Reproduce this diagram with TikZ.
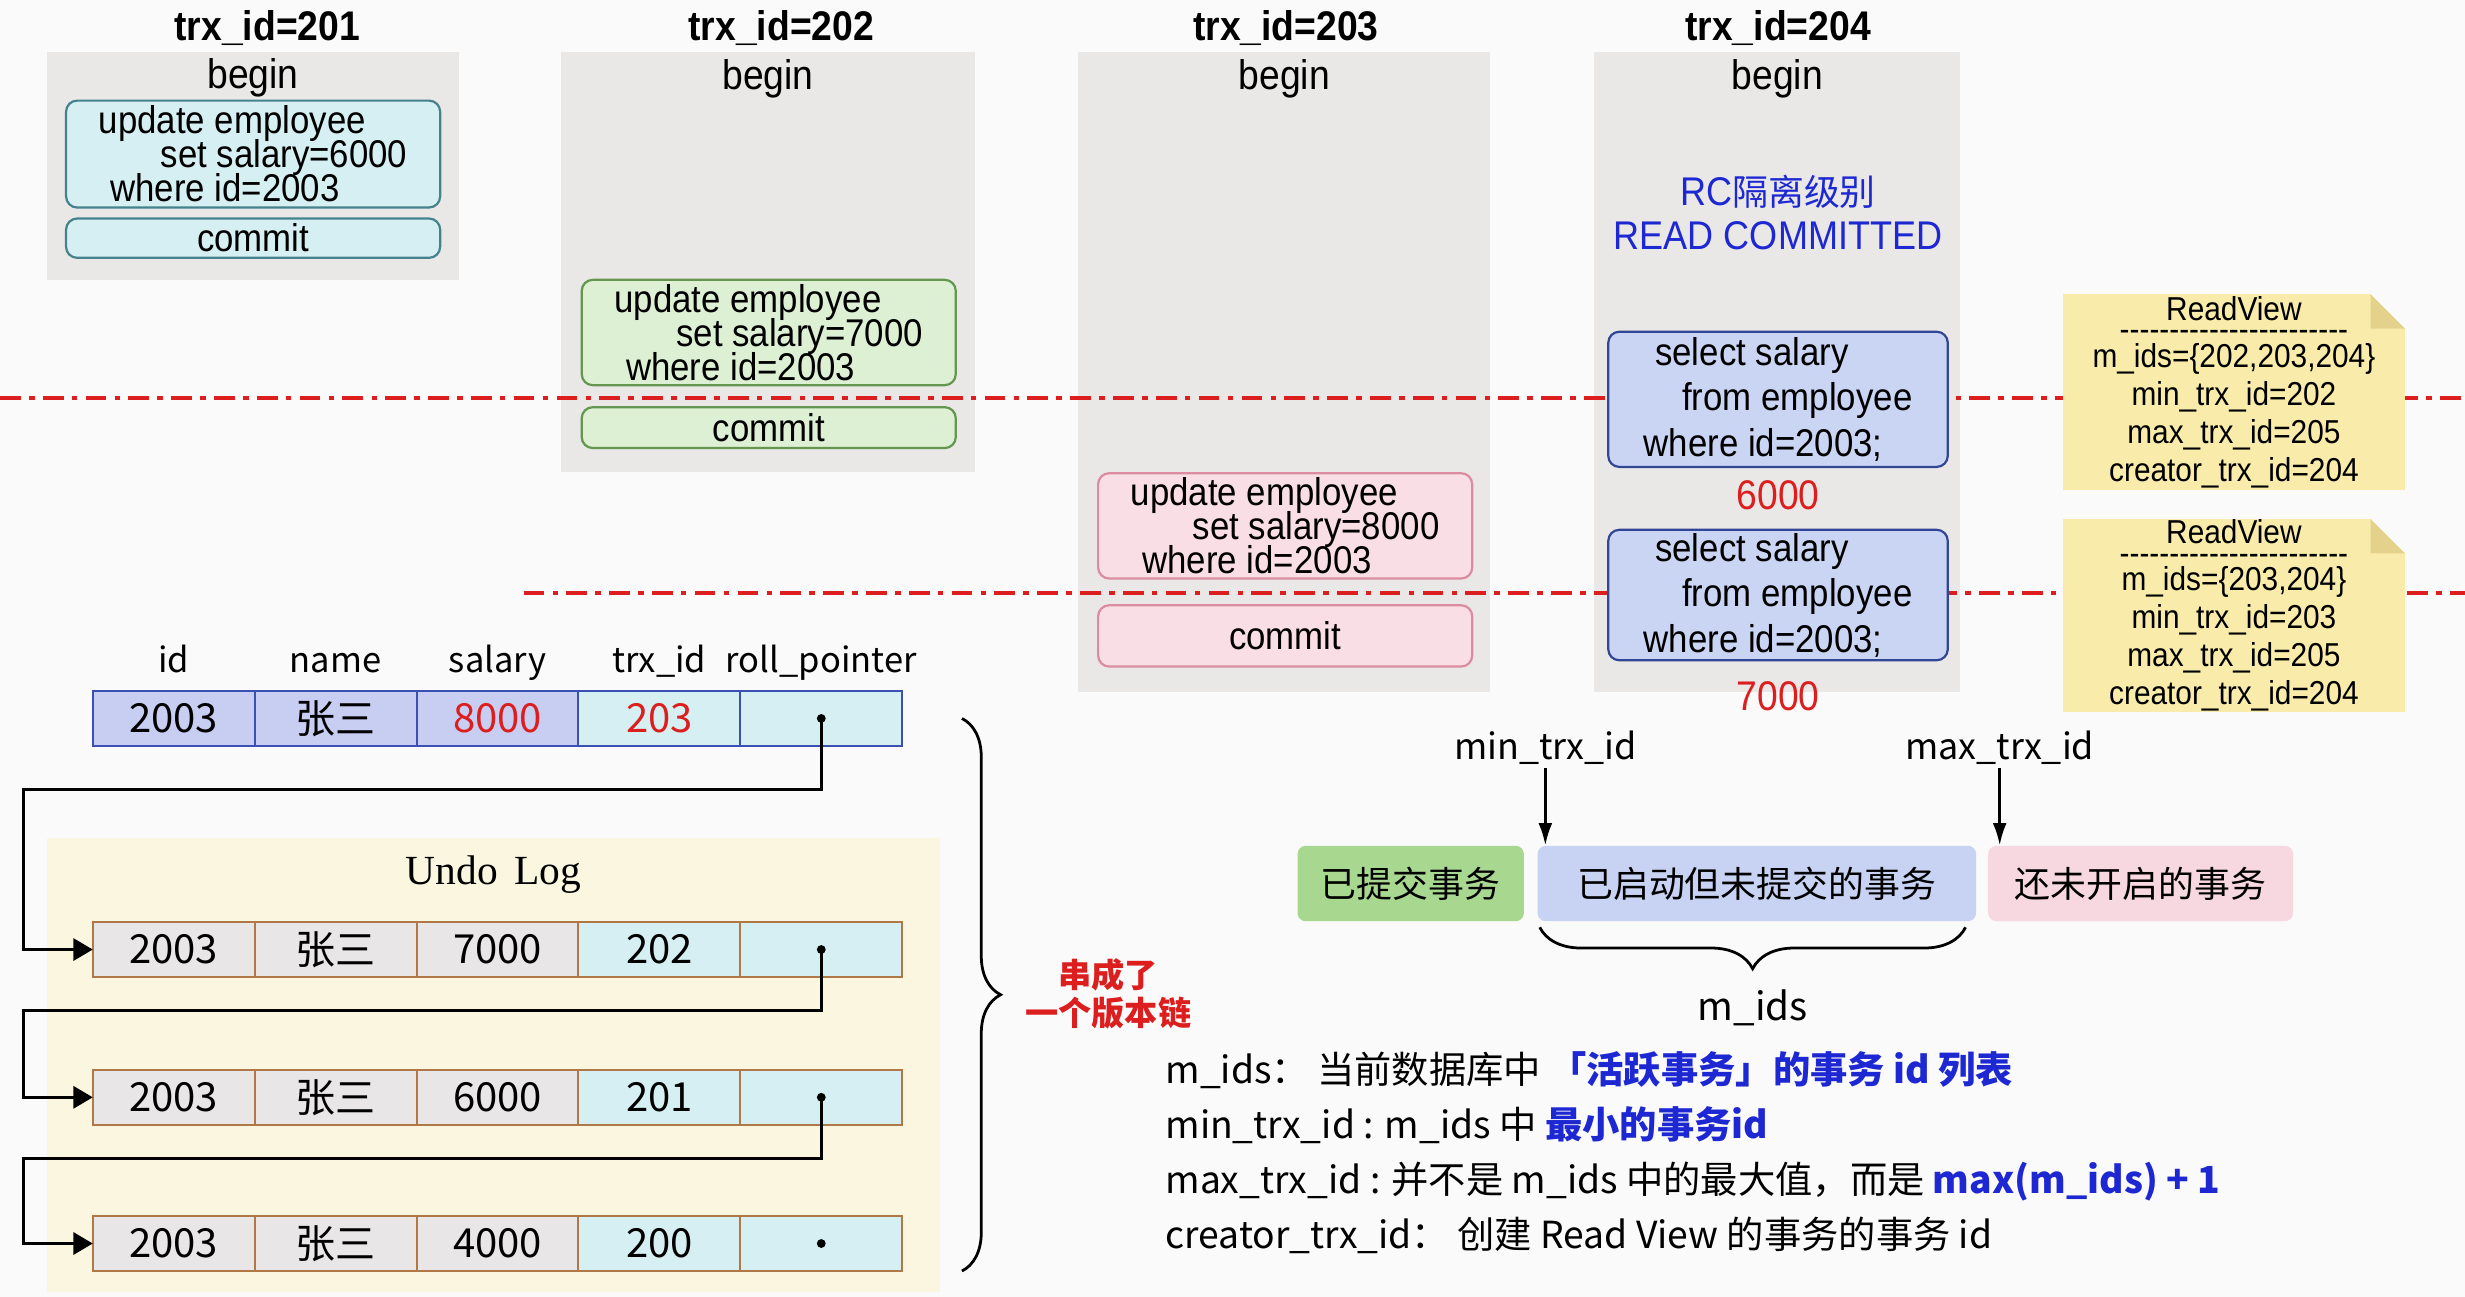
\documentclass[tikz,border=0pt]{standalone}
\usepackage{fontspec}
\setmainfont{Liberation Sans}[FakeStretch=0.9]
\newfontfamily\cjk{Noto Sans CJK SC}
\newfontfamily\logfont{Liberation Serif}
\usetikzlibrary{arrows.meta, positioning, calc, decorations.pathreplacing}
\definecolor{bgc}{RGB}{250,250,250}
\definecolor{colc}{RGB}{233,232,231}
\definecolor{cyanf}{RGB}{213,239,242}
\definecolor{cyand}{RGB}{70,130,140}
\definecolor{greenf}{RGB}{221,240,212}
\definecolor{greend}{RGB}{100,150,80}
\definecolor{pinkf}{RGB}{250,222,230}
\definecolor{pinkd}{RGB}{220,140,160}
\definecolor{self}{RGB}{202,212,243}
\definecolor{seld}{RGB}{50,70,150}
\definecolor{notef}{RGB}{249,236,170}
\definecolor{foldf}{RGB}{228,210,140}
\definecolor{rowf}{RGB}{200,206,242}
\definecolor{rowd}{RGB}{60,80,180}
\definecolor{undof}{RGB}{232,230,230}
\definecolor{undod}{RGB}{175,120,70}
\definecolor{logbg}{RGB}{250,246,224}
\definecolor{hotc}{RGB}{220,30,30}
\definecolor{bluec}{RGB}{30,40,210}
\definecolor{doneg}{RGB}{168,216,144}
\definecolor{actb}{RGB}{200,210,242}
\definecolor{futp}{RGB}{248,216,224}
\newcommand\rvdash{-{}-{}-{}-{}-{}-{}-{}-{}-{}-{}-{}-{}-{}-{}-{}-{}-{}-{}-{}-{}-{}-{}-}
\newcommand\kw[1]{{\bfseries\color{bluec}#1}}
\newcommand\tightlines{\lineskiplimit=-20pt\relax}

\begin{document}
\begin{tikzpicture}[x=0.02cm, y=-0.02cm,
    txcol/.style={fill=colc, inner sep=0pt},
    txtitle/.style={font=\bfseries\fontsize{15}{18}\selectfont},
    lbl/.style={inner sep=0pt, font=\fontsize{15}{18}\selectfont},
    sqlbox/.style={draw, rounded corners=4pt, line width=0.8pt, inner sep=0pt,
      minimum width=4.76cm, align=left,
      font=\fontsize{14}{12.3}\selectfont\tightlines},
    selbox/.style={draw=seld, fill=self, rounded corners=4pt, line width=0.8pt,
      inner sep=0pt, minimum width=4.32cm, align=left,
      font=\fontsize{14}{16.5}\selectfont},
    dashln/.style={hotc, line width=1.4pt,
      dash pattern=on 7.5pt off 3pt on 2pt off 3pt},
    note/.style={fill=notef, minimum width=4.36cm, inner sep=0pt, align=center,
      font=\fontsize{12}{13.7}\selectfont\tightlines,
      path picture={
        \fill[foldf] ([xshift=-0.44cm]path picture bounding box.north east)
          -- ++(0,-0.44cm) -- ([yshift=-0.44cm]path picture bounding box.north east) -- cycle;
        \fill[bgc] ([xshift=-0.44cm]path picture bounding box.north east)
          -- (path picture bounding box.north east)
          -- ([yshift=-0.44cm]path picture bounding box.north east) -- cycle;}},
    cell/.style={draw, line width=0.7pt, outer sep=0pt, inner sep=0pt,
      minimum width=2.06cm, minimum height=0.7cm, font=\cjk\fontsize{14.5}{16}\selectfont},
    cur/.style={cell, draw=rowd, fill=rowf},
    curp/.style={cell, draw=rowd, fill=cyanf},
    old/.style={cell, draw=undod, fill=undof},
    oldp/.style={cell, draw=undod, fill=cyanf},
    hd/.style={font=\cjk\fontsize{12.5}{15}\selectfont, text height=10pt,
      text depth=3pt, inner sep=0pt},
    chainarr/.style={-{Triangle[length=7pt, width=8pt]}, line width=1pt},
    arr/.style={-{Latex[length=8pt, width=5pt]}, line width=0.9pt},
    band/.style={rounded corners=3pt, minimum height=0.96cm, inner sep=0pt,
      font=\cjk\fontsize{13}{15}\selectfont},
    expl/.style={anchor=west, inner sep=0pt, text height=10pt, text depth=3pt,
      font=\cjk\fontsize{13.5}{16}\selectfont}]
  \fill[bgc] (0,0) rectangle (1568,825);
  \useasboundingbox (0,0) rectangle (1568,825);

  % four transactions
  \node[txcol, minimum width=5.24cm, minimum height=2.9cm] (t201) at (161,105.5) {};
  \node[txcol, minimum width=5.26cm, minimum height=5.34cm] (t202) at (488.5,166.5) {};
  \node[txcol, minimum width=5.24cm, minimum height=8.14cm] (t203) at (817,236.5) {};
  \node[txcol, minimum width=4.66cm, minimum height=8.14cm] (t204) at (1130.5,236.5) {};
  \foreach \tx/\x in {201/170, 202/497, 203/818, 204/1131}
    \node[txtitle] (h\tx) at (\x,18) {trx\_id=\tx};
  \foreach \tx in {201,202,203,204}
    \node[lbl, below=0.09cm of t\tx.north] (b\tx) {begin};

  \draw[dashln] (0,253) -- (1568,253);
  \draw[dashln] (333,377) -- (1568,377);

  \node[sqlbox, draw=cyand, fill=cyanf, minimum height=1.36cm] (u201) at (161,98)
    {update employee\\\hspace*{1.6em}set salary=6000\\\hspace*{0.3em}where id=2003};
  \node[sqlbox, draw=cyand, fill=cyanf, minimum height=0.5cm] (c201) at (161,151.5) {commit};
  \node[sqlbox, draw=greend, fill=greenf, minimum height=1.34cm] (u202) at (489,211.5)
    {update employee\\\hspace*{1.6em}set salary=7000\\\hspace*{0.3em}where id=2003};
  \node[sqlbox, draw=greend, fill=greenf, minimum height=0.52cm] (c202) at (489,272) {commit};
  \node[sqlbox, draw=pinkd, fill=pinkf, minimum height=1.34cm] (u203) at (817.5,334.5)
    {update employee\\\hspace*{1.6em}set salary=8000\\\hspace*{0.3em}where id=2003};
  \node[sqlbox, draw=pinkd, fill=pinkf, minimum height=0.78cm] (c203) at (817.5,404.5) {commit};

  \node[lbl, text=bluec, align=center, font=\fontsize{14.5}{16}\selectfont] (rc) at (1131,135)
    {RC{\cjk\fontsize{13}{15}\selectfont 隔离级别}\\READ COMMITTED};
  \node[selbox, minimum height=1.72cm] (s1) at (1131,254)
    {\hspace*{0.3em}select salary\\\hspace*{1em}from employee\\where id=2003;};
  \node[lbl, text=hotc, below=0.15cm of s1] (v1) {6000};
  \node[selbox, minimum height=1.66cm] (s2) at (1131,378.5)
    {\hspace*{0.3em}select salary\\\hspace*{1em}from employee\\where id=2003;};
  \node[lbl, text=hotc, below=0.25cm of s2] (v2) {7000};

  % read views
  \node[note, minimum height=2.5cm] (rv1) at (1421,249.5)
    {ReadView\\[-6.4pt]\rvdash\\[-4pt]m\_ids=\{202,203,204\}\\min\_trx\_id=202\\max\_trx\_id=205\\creator\_trx\_id=204};
  \node[note, minimum height=2.46cm] (rv2) at (1421,391.5)
    {ReadView\\[-6.4pt]\rvdash\\[-4pt]m\_ids=\{203,204\}\\min\_trx\_id=203\\max\_trx\_id=205\\creator\_trx\_id=204};

  % record and undo log
  \node[fill=logbg, minimum width=11.36cm, minimum height=5.78cm, inner sep=0pt] (log) at (314,677.5) {};
  \node[inner sep=0pt, font=\logfont\fontsize{15}{18}\selectfont, below=0.22cm of log.north] (logt)
    {Undo\hspace{0.4em}Log};
  \node[cur] (r0-a) at (110.5,457) {2003};
  \node[cur, right=0pt of r0-a] (r0-b) {张三};
  \node[cur, right=0pt of r0-b, text=hotc] (r0-c) {8000};
  \node[curp, right=0pt of r0-c, text=hotc] (r0-d) {203};
  \node[curp, right=0pt of r0-d] (r0-e) {};
  \foreach \c/\h in {a/id, b/name, c/salary, d/trx\_id, e/roll\_pointer}
    \node[hd, above=3.5pt of r0-\c] (hd-\c) {\h};
  \foreach \r/\y/\sal/\tx in {u1/604/7000/202, u2/698/6000/201, u3/791/4000/200} {
    \node[old] (\r-a) at (110.5,\y) {2003};
    \node[old, right=0pt of \r-a] (\r-b) {张三};
    \node[old, right=0pt of \r-b] (\r-c) {\sal};
    \node[oldp, right=0pt of \r-c] (\r-d) {\tx};
    \node[oldp, right=0pt of \r-d] (\r-e) {};
  }
  \foreach \r in {r0,u1,u2,u3} \fill (\r-e.center) circle (1.6pt);
  \coordinate (j1) at (15,502);
  \coordinate (j2) at (15,643);
  \coordinate (j3) at (15,737);
  \draw[chainarr] (r0-e.center) |- (j1) |- (u1-a.west);
  \draw[chainarr] (u1-e.center) |- (j2) |- (u2-a.west);
  \draw[chainarr] (u2-e.center) |- (j3) |- (u3-a.west);
  \draw[decorate, decoration={brace, amplitude=14pt}, line width=1pt]
    ([xshift=0.76cm]r0-e.east) -- ([xshift=0.76cm]u3-e.south east);
  \node[text=hotc, align=center, font=\cjk\bfseries\fontsize{12}{13.7}\selectfont] (chainl) at (705,632)
    {串成了\\一个版本链};

  % id ranges
  \node[band, fill=actb, minimum width=5.58cm] (act) at (1117.5,562) {已启动但未提交的事务};
  \node[band, fill=doneg, minimum width=2.88cm, left=0.16cm of act] (done) {已提交事务};
  \node[band, fill=futp, minimum width=3.88cm, right=0.14cm of act] (todo) {还未开启的事务};
  \node[hd, font=\cjk\fontsize{13}{16}\selectfont] (minl) at (983,477) {min\_trx\_id};
  \node[hd, font=\cjk\fontsize{13}{16}\selectfont] (maxl) at (1272,477) {max\_trx\_id};
  \draw[arr] (minl.south) -- (minl.south |- act.north);
  \draw[arr] (maxl.south) -- (maxl.south |- todo.north);
  \draw[decorate, decoration={brace, amplitude=15pt}, line width=1pt]
    ([xshift=-4pt, yshift=-2pt]act.south east) --
    node[hd, font=\cjk\fontsize{14}{16}\selectfont, below=0.82cm] (mids) {m\_ids}
    ([xshift=1pt, yshift=-2pt]act.south west);

  \node[expl] (e1) at (741,683) {m\_ids： 当前数据库中 \kw{「活跃事务」的事务 id 列表}};
  \node[expl] (e2) at (741,718) {min\_trx\_id : m\_ids 中 \kw{最小的事务id}};
  \node[expl] (e3) at (741,753) {max\_trx\_id : 并不是 m\_ids 中的最大值，而是 \kw{max(m\_ids) + 1}};
  \node[expl] (e4) at (741,788) {creator\_trx\_id： 创建 Read View 的事务的事务 id};
\end{tikzpicture}
\end{document}
